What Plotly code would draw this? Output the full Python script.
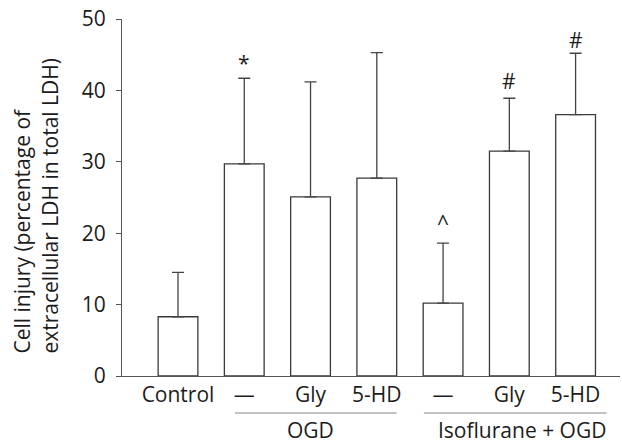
import plotly.graph_objects as go

tick_labels = ["Control", "\u2014", "Gly", "5-HD", "\u2014", "Gly", "5-HD"]
means = [8.3, 29.7, 25.1, 27.7, 10.2, 31.5, 36.6]
upper = [14.5, 41.7, 41.2, 45.3, 18.6, 38.9, 45.2]
marks = ["", "*", "", "", "^", "#", "#"]
mark_y = [0, 43.8, 0, 0, 21.4, 41.3, 47.0]
groups = ["OGD", "Isoflurane + OGD"]
group_span = [(0.86, 3.30), (3.71, 6.47)]
group_label_x = [2.0, 5.19]

xs = list(range(len(means)))
err = [u - m for u, m in zip(upper, means)]

FONT = "Open Sans"
TXT = "#1c1c1c"
FS = 21

fig = go.Figure()
fig.add_trace(go.Bar(
    x=xs, y=means, width=0.6,
    marker=dict(color="white", line=dict(color="#3a3a3a", width=1.3)),
    error_y=dict(type="data", array=err, arrayminus=[0]*len(err), symmetric=False,
                 color="#444444", thickness=1.3, width=6),
    showlegend=False, hoverinfo="skip",
))

annotations = []
for x, m, my in zip(xs, marks, mark_y):
    if m:
        annotations.append(dict(x=x, y=my, xref="x", yref="y", text=m, showarrow=False,
                                font=dict(family=FONT, size=FS, color=TXT)))
shapes = []
for (a, b), g, gx in zip(group_span, groups, group_label_x):
    shapes.append(dict(type="line", xref="x", yref="paper", x0=a, x1=b, y0=-0.1036, y1=-0.1036,
                       line=dict(color="#888888", width=1.2)))
    annotations.append(dict(x=gx, y=-0.151, xref="x", yref="paper", text=g, showarrow=False,
                            yanchor="middle", borderpad=0,
                            font=dict(family=FONT, size=FS, color=TXT)))

annotations.append(dict(
    x=0, y=0.476, xref="paper", yref="paper", xshift=-86.5,
    text="Cell injury (percentage of<br>extracellular LDH in total LDH)",
    textangle=-90, align="left", showarrow=False, xanchor="center", yanchor="middle",
    font=dict(family=FONT, size=FS, color=TXT),
))

fig.update_layout(
    width=622, height=443,
    margin=dict(l=122, r=2, t=19, b=67, autoexpand=False),
    paper_bgcolor="white", plot_bgcolor="white",
    font=dict(family=FONT, size=FS, color=TXT),
    annotations=annotations, shapes=shapes,
    bargap=0.4,
)
fig.update_xaxes(
    range=[-0.845, 6.67], tickmode="array", tickvals=xs, ticktext=tick_labels,
    showline=True, linecolor="#555555", linewidth=1.3, ticks="", showgrid=False,
    zeroline=False, ticklabeloverflow="allow", automargin=False,
    tickfont=dict(family=FONT, size=FS, color=TXT),
)
fig.update_yaxes(
    range=[0, 50], tickvals=[0, 10, 20, 30, 40, 50],
    showline=True, linecolor="#555555", linewidth=1.3, ticks="outside", ticklen=5,
    tickcolor="#555555", tickwidth=1.2, showgrid=False, zeroline=False,
    ticklabelstandoff=6, ticklabeloverflow="allow", automargin=False,
    tickfont=dict(family=FONT, size=FS, color=TXT),
)

fig.write_html(
    "out.html",
    config={"displayModeBar": False},
    post_script="document.body.style.margin='0';document.body.style.overflow='hidden';",
)
